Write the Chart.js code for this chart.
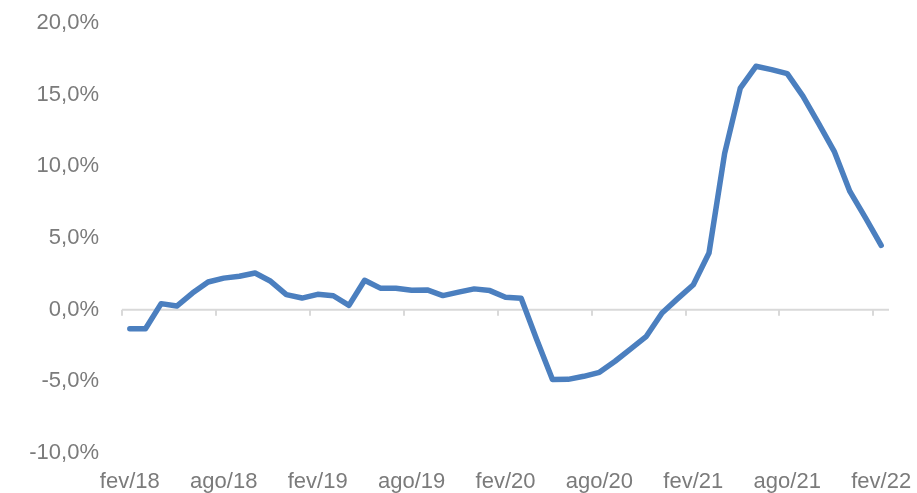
<!DOCTYPE html>
<html>
<head>
<meta charset="utf-8">
<script src="https://cdn.jsdelivr.net/npm/chart.js@4"></script>
<style>
  html, body { margin: 0; padding: 0; background: #fff; }
  #chart { display: block; }
</style>
</head>
<body>
<canvas id="chart" width="917" height="493"></canvas>
<script>
// meses (fev/18 a fev/22)
const months = [
  'fev/18', 'mar/18', 'abr/18', 'mai/18', 'jun/18', 'jul/18', 'ago/18', 'set/18', 'out/18', 'nov/18', 'dez/18', 'jan/19',
  'fev/19', 'mar/19', 'abr/19', 'mai/19', 'jun/19', 'jul/19', 'ago/19', 'set/19', 'out/19', 'nov/19', 'dez/19', 'jan/20',
  'fev/20', 'mar/20', 'abr/20', 'mai/20', 'jun/20', 'jul/20', 'ago/20', 'set/20', 'out/20', 'nov/20', 'dez/20', 'jan/21',
  'fev/21', 'mar/21', 'abr/21', 'mai/21', 'jun/21', 'jul/21', 'ago/21', 'set/21', 'out/21', 'nov/21', 'dez/21', 'jan/22',
  'fev/22'
];

// variação (%)
const values = [
  -1.33, -1.33, 0.42, 0.25, 1.16, 1.93, 2.2, 2.33, 2.56, 1.98, 1.05, 0.81,
  1.07, 0.97, 0.3, 2.05, 1.5, 1.5, 1.35, 1.38, 0.98, 1.22, 1.45, 1.33,
  0.87, 0.8, -2.1, -4.88, -4.86, -4.65, -4.37, -3.6, -2.74, -1.86, -0.23, 0.77,
  1.74, 3.95, 10.9, 15.45, 16.98, 16.75, 16.47, 14.9, 13.0, 11.05, 8.25, 6.4,
  4.49
];

const yTicks = [-10, -5, 0, 5, 10, 15, 20];
const labelEvery = 6;

const textColor = '#7b7b7b';
const axisColor = '#d9d9d9';
const lineColor = '#4b7fbf';
const font = { family: '"Liberation Sans", Arial, sans-serif', size: 22 };

// linha do zero + marcas de escala
const zeroAxis = {
  id: 'zeroAxis',
  beforeDatasetsDraw(chart) {
    const { ctx, chartArea, scales } = chart;
    const y0 = scales.y.getPixelForValue(0);
    const step = (chartArea.right - chartArea.left) / months.length;
    ctx.save();
    ctx.strokeStyle = axisColor;
    ctx.lineWidth = 2;
    ctx.beginPath();
    ctx.moveTo(chartArea.left, y0);
    ctx.lineTo(chartArea.right, y0);
    for (let i = 0; i < months.length; i += labelEvery) {
      const x = Math.round(scales.x.getPixelForValue(i) - step / 2);
      ctx.moveTo(x, y0);
      ctx.lineTo(x, y0 + 6);
    }
    ctx.stroke();
    ctx.restore();
  }
};

const ctx = document.getElementById('chart').getContext('2d');
new Chart(ctx, {
  type: 'line',
  data: {
    labels: months,
    datasets: [{
      data: values,
      borderColor: lineColor,
      borderWidth: 5.5,
      pointRadius: 0,
      tension: 0,
      borderJoinStyle: 'round',
      borderCapStyle: 'round'
    }]
  },
  options: {
    responsive: false,
    animation: false,
    layout: { padding: { top: 23, right: 28, bottom: 0, left: 0 } },
    plugins: {
      legend: { display: false },
      tooltip: { enabled: false }
    },
    scales: {
      x: {
        offset: true,
        grid: { display: false, drawTicks: false },
        border: { display: false },
        ticks: {
          autoSkip: false,
          maxRotation: 0,
          padding: 16,
          color: textColor,
          font: font,
          callback: (v, i) => (i % labelEvery === 0 ? months[i] : '')
        },
        afterFit: s => { s.height = 40; s.paddingLeft = 0; s.paddingRight = 0; }
      },
      y: {
        min: -10,
        max: 20,
        grid: { display: false, drawTicks: false },
        border: { display: false },
        afterBuildTicks: s => { s.ticks = yTicks.map(v => ({ value: v })); },
        ticks: {
          padding: 23,
          color: textColor,
          font: font,
          callback: v => v.toFixed(1).replace('.', ',') + '%'
        },
        afterFit: s => { s.width = 122; s.paddingTop = 0; s.paddingBottom = 0; }
      }
    }
  },
  plugins: [zeroAxis]
});
</script>
</body>
</html>
